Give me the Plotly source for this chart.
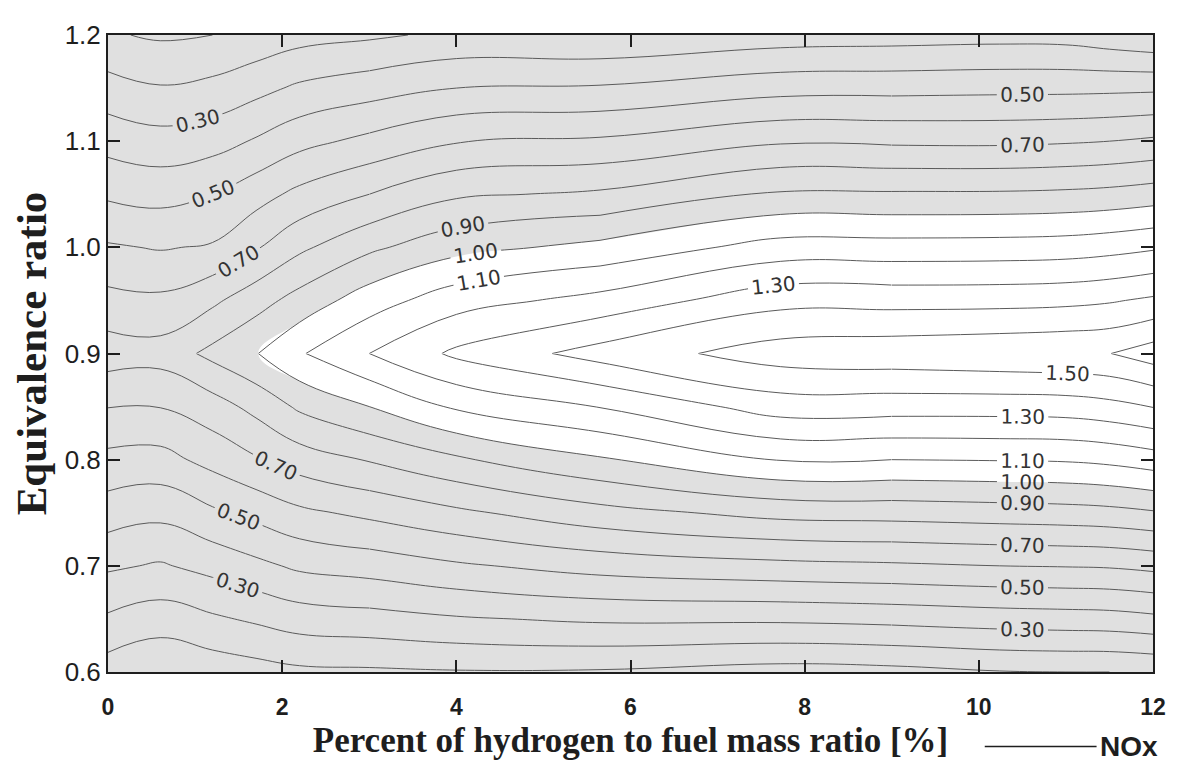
import numpy as np
import plotly.graph_objects as go

# Hydrogen percentage (x) and equivalence ratio (y) grid
h2_pct = [0, 0.6, 1.2, 1.7, 2.2, 3, 4, 5.65, 7.72, 9, 10.24, 11, 11.5, 12]
phi = [0.6, 0.65, 0.7, 0.75, 0.8, 0.85, 0.9, 0.95, 1.0, 1.05, 1.1, 1.15, 1.2]

# NOx values estimated column by column (bottom phi=0.6 -> top phi=1.2)
nox_x0 = [0.05, 0.185, 0.315, 0.45, 0.572, 0.703, 0.85, 0.731, 0.611, 0.484, 0.363, 0.24, 0.11]
nox_x06 = [0.01, 0.149, 0.29, 0.426, 0.565, 0.703, 0.84, 0.72, 0.593, 0.467, 0.337, 0.207, 0.087]
nox_x12 = [0.04, 0.185, 0.332, 0.483, 0.633, 0.756, 0.927, 0.78, 0.61, 0.50, 0.36, 0.228, 0.10]
nox_x17 = [0.06, 0.215, 0.375, 0.53, 0.69, 0.83, 0.995, 0.86, 0.69, 0.56, 0.41, 0.27, 0.13]
nox_x22 = [0.08, 0.248, 0.418, 0.579, 0.75, 0.917, 1.09, 0.937, 0.78, 0.626, 0.469, 0.317, 0.163]
nox_x3 = [0.085, 0.263, 0.443, 0.623, 0.807, 1.0, 1.2, 1.053, 0.88, 0.70, 0.526, 0.356, 0.184]
nox_x4 = [0.093, 0.29, 0.486, 0.68, 0.885, 1.115, 1.32, 1.157, 0.967, 0.785, 0.597, 0.40, 0.22]
nox_x565 = [0.09, 0.316, 0.539, 0.765, 0.988, 1.204, 1.44, 1.233, 1.028, 0.816, 0.615, 0.411, 0.21]
nox_x772 = [0.06, 0.318, 0.573, 0.832, 1.105, 1.348, 1.55, 1.367, 1.14, 0.914, 0.688, 0.464, 0.248]
nox_x9 = [0.07, 0.33, 0.585, 0.84, 1.10, 1.345, 1.565, 1.365, 1.14, 0.912, 0.683, 0.468, 0.256]
nox_x1024 = [0.095, 0.348, 0.60, 0.852, 1.105, 1.345, 1.58, 1.367, 1.143, 0.913, 0.681, 0.474, 0.264]
nox_x11 = [0.10, 0.355, 0.605, 0.86, 1.11, 1.35, 1.59, 1.375, 1.15, 0.92, 0.69, 0.475, 0.26]
nox_x115 = [0.10, 0.36, 0.61, 0.87, 1.125, 1.37, 1.598, 1.39, 1.165, 0.93, 0.70, 0.478, 0.235]
nox_x12p = [0.11, 0.377, 0.627, 0.89, 1.153, 1.404, 1.65, 1.417, 1.187, 0.948, 0.717, 0.482, 0.21]

x_ticks = [0, 2, 4, 6, 8, 10, 12]
y_ticks = [0.6, 0.7, 0.8, 0.9, 1.0, 1.1, 1.2]

z = np.column_stack([nox_x0, nox_x06, nox_x12, nox_x17, nox_x22, nox_x3, nox_x4,
                     nox_x565, nox_x772, nox_x9, nox_x1024, nox_x11, nox_x115, nox_x12p])
xs = np.array(h2_pct)
ys = np.array(phi)

GRAY = "#e0e0e0"
LINE = "#5a5a5a"
INK = "#1e1e1e"
zmin, zmax = 0.0, 1.7
step = 0.975 / zmax
SMOOTH = 1.2

fig = go.Figure()

# filled background: gray below 1.0, white above
fig.add_trace(go.Contour(
    x=xs, y=ys, z=z, zmin=zmin, zmax=zmax, autocontour=False,
    colorscale=[[0, GRAY], [step, GRAY], [step, "#ffffff"], [1, "#ffffff"]],
    contours=dict(start=0.1, end=1.6, size=0.1, coloring="fill", showlines=False),
    line=dict(width=0, smoothing=SMOOTH), showscale=False, hoverinfo="skip"))

lab_font = dict(family="DejaVu Sans", size=20, color="#333333")

# Contour lines: each level is drawn in pieces (upper / lower half of the ridge at
# phi = 0.9, and x-ranges) so that its inline labels fall where the original has them.
levels = [k / 10 for k in range(1, 17)]
ROW_MID = phi.index(0.9)
halves = {"low": (0, ROW_MID), "up": (ROW_MID, len(phi) - 1)}
XMAX = h2_pct[-1]
plan = {
    "up": {
        0.3: [(0, 3, True), (3, XMAX, False)],
        0.5: [(0, 3, True), (3, 9, False), (9, XMAX, True)],
        0.7: [(0, 3, True), (3, 9, False), (9, XMAX, True)],
        0.9: [(0, 5.65, True), (5.65, XMAX, False)],
        1.0: [(0, 5.65, True), (5.65, XMAX, False)],
        1.1: [(0, 5.65, True), (5.65, XMAX, False)],
        1.3: [(0, 9, True), (9, XMAX, False)],
    },
    "low": {
        0.3: [(0, 3, True), (3, 9, False), (9, XMAX, True)],
        0.5: [(0, 3, True), (3, 9, False), (9, XMAX, True)],
        0.7: [(0, 3, True), (3, 9, False), (9, XMAX, True)],
        0.9: [(0, 9, False), (9, XMAX, True)],
        1.0: [(0, 9, False), (9, XMAX, True)],
        1.1: [(0, 9, False), (9, XMAX, True)],
        1.3: [(0, 9, False), (9, XMAX, True)],
        1.5: [(0, 9, False), (9, XMAX, True)],
    },
}

for half, (r0, r1) in halves.items():
    for lev in levels:
        pieces = plan[half].get(lev, [(0, XMAX, False)])
        for xa, xb, show in pieces:
            c0, c1 = h2_pct.index(xa), h2_pct.index(xb)
            sub = z[r0:r1 + 1, c0:c1 + 1]
            if not (sub.min() < lev < sub.max()):
                continue
            fig.add_trace(go.Contour(
                x=xs[c0:c1 + 1], y=ys[r0:r1 + 1], z=sub, autocontour=False,
                contours=dict(start=lev, end=lev, size=1, coloring="none",
                              showlabels=show, labelfont=lab_font, labelformat=".2f"),
                line=dict(color=LINE, width=1, smoothing=SMOOTH),
                showscale=False, hoverinfo="skip"))

axis_common = dict(showline=True, linecolor=INK, linewidth=2, mirror="ticks",
                   ticks="inside", ticklen=12, tickwidth=2, tickcolor=INK,
                   showgrid=False, zeroline=False)

fig.update_xaxes(range=[0, 12], tickvals=x_ticks, ticktext=[f"<b>{v}</b>" for v in x_ticks],
                 tickfont=dict(family="Liberation Sans", size=23, color=INK),
                 ticklabelstandoff=13,
                 title=dict(text="<b>Percent of hydrogen to fuel mass ratio [%]</b>",
                            font=dict(family="Liberation Serif", size=35, color=INK),
                            standoff=9),
                 **axis_common)
fig.update_yaxes(range=[0.6, 1.2], tickvals=y_ticks, ticktext=[f"{v:.1f}" for v in y_ticks],
                 tickfont=dict(family="Liberation Sans", size=26, color=INK),
                 title=dict(text="<b>Equivalence ratio</b>",
                            font=dict(family="Liberation Serif", size=43, color=INK),
                            standoff=13),
                 **axis_common)

# legend-like key
fig.add_shape(type="line", xref="paper", yref="paper", x0=0.839, x1=0.946, y0=-0.117, y1=-0.117,
              line=dict(color=INK, width=1.5))
fig.add_annotation(xref="paper", yref="paper", x=0.947, y=-0.117, xanchor="left", yanchor="middle",
                   text="<b>NOx</b>", showarrow=False,
                   font=dict(family="Liberation Sans", size=28, color=INK))

# page body has an 8px margin: figure is 1172x776 placed at (8, 8)
fig.update_layout(width=1172, height=776, plot_bgcolor="white", paper_bgcolor="white",
                  margin=dict(l=100, r=27, t=16, b=112), showlegend=False)

fig.write_html("out.html")
